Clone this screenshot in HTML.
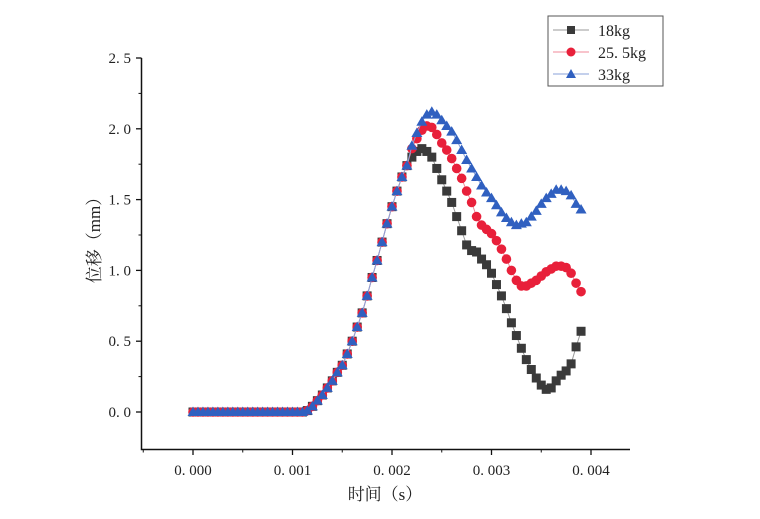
<!DOCTYPE html>
<html><head><meta charset="utf-8"><style>
body{margin:0;background:#fff}
text{font-family:"Liberation Serif","Noto Serif CJK SC",serif;fill:#222}
</style></head><body>
<svg id="chart" width="760" height="514" xmlns="http://www.w3.org/2000/svg">
<g id="axes"></g><g id="series"></g>
<g>
<rect x="548" y="16" width="115" height="70" fill="#fff" stroke="#555" stroke-width="1"/>
<g><line x1="553" y1="30" x2="589" y2="30" stroke="#999"/><rect x="567" y="26" width="8" height="8" fill="#3a3a3a"/><text x="598" y="36" font-size="16">18kg</text></g>
<g><line x1="553" y1="52" x2="589" y2="52" stroke="#f08a9a"/><circle cx="571" cy="52" r="4.5" fill="#e8203a"/><text x="598" y="58" font-size="16">25. 5kg</text></g>
<g><line x1="553" y1="74" x2="589" y2="74" stroke="#8aa0d8"/><path d="M571 69 L576 78 L566 78 Z" fill="#3060c0"/><text x="598" y="80" font-size="16">33kg</text></g>
</g>
<text x="385" y="500" font-size="17" text-anchor="middle">时间（s）</text>
<text x="0" y="0" font-size="17" text-anchor="middle" transform="translate(100,236) rotate(-90)">位移（mm）</text>
</svg>
<script>
const step = 0.00005;
const rise = [0,0,0,0,0,0,0,0,0,0,0,0,0,0,0,0,0,0,0,0,0,0,0,0.01,0.04,0.08,0.12,0.17,0.22,0.28,0.33,0.41,0.50,0.60,0.70,0.82,0.95,1.07,1.2,1.33,1.45,1.56,1.66,1.74];
const s18 = rise.concat([1.80,1.84,1.86,1.84,1.80,1.72,1.64,1.56,1.48,1.38,1.28,1.18,1.14,1.13,1.08,1.04,0.98,0.90,0.82,0.73,0.63,0.54,0.45,0.37,0.30,0.24,0.19,0.16,0.17,0.22,0.26,0.29,0.34,0.46,0.57]);
const s25 = rise.concat([1.86,1.93,1.99,2.02,2.01,1.96,1.90,1.85,1.79,1.72,1.65,1.56,1.48,1.38,1.32,1.29,1.26,1.21,1.15,1.08,1.00,0.93,0.89,0.89,0.91,0.93,0.96,0.99,1.01,1.03,1.03,1.02,0.98,0.91,0.85]);
const s33 = rise.concat([1.88,1.97,2.05,2.10,2.12,2.10,2.06,2.02,1.98,1.92,1.85,1.78,1.72,1.66,1.60,1.55,1.51,1.46,1.41,1.37,1.34,1.32,1.33,1.34,1.38,1.42,1.47,1.51,1.54,1.57,1.57,1.56,1.53,1.47,1.43]);
const xTicks = [0,0.001,0.002,0.003,0.004];
const xTickLabels = ["0. 000","0. 001","0. 002","0. 003","0. 004"];
const yTicks = [0,0.5,1.0,1.5,2.0,2.5];
const yTickLabels = ["0. 0","0. 5","1. 0","1. 5","2. 0","2. 5"];

const NS="http://www.w3.org/2000/svg";
const X = t => 193 + t/0.001*99.5;
const Y = v => 412 - v/0.5*70.8;
function mk(tag, parent){const e=document.createElementNS(NS,tag);parent.appendChild(e);return e;}
const axes=document.getElementById('axes');
let a=mk('path',axes);


a.setAttribute('d','M141.5 58 V449.5 H630');a.setAttribute('stroke','#111');a.setAttribute('fill','none');a.setAttribute('stroke-width','1.5');
yTicks.forEach((v,i)=>{
  let l=mk('line',axes);
  
  
  l.setAttribute('x1',136);l.setAttribute('x2',141.5);l.setAttribute('y1',Y(v));l.setAttribute('y2',Y(v));l.setAttribute('stroke','#111');l.setAttribute('stroke-width','1.3');
  if(i<yTicks.length-1){let m=mk('line',axes);
  
  
  m.setAttribute('x1',138.5);m.setAttribute('x2',141.5);m.setAttribute('y1',Y(v+0.25));m.setAttribute('y2',Y(v+0.25));m.setAttribute('stroke','#111');}
  let t=mk('text',axes);
  
  
  t.setAttribute('x',131);t.setAttribute('y',Y(v)+5);t.setAttribute('text-anchor','end');t.setAttribute('font-size','15');t.textContent=yTickLabels[i];
});
xTicks.forEach((v,i)=>{
  let l=mk('line',axes);
  
  
  l.setAttribute('x1',X(v));l.setAttribute('x2',X(v));l.setAttribute('y1',449.5);l.setAttribute('y2',455);l.setAttribute('stroke','#111');l.setAttribute('stroke-width','1.3');
  if(i<xTicks.length-1){
  let m=mk('line',axes);
  
  
  const mx=X(v+0.0005); m.setAttribute('x1',mx);m.setAttribute('x2',mx);m.setAttribute('y1',449.5);m.setAttribute('y2',452.5);m.setAttribute('stroke','#111');}
  let t=mk('text',axes);
  
  
  t.setAttribute('x',X(v));t.setAttribute('y',475);t.setAttribute('text-anchor','middle');t.setAttribute('font-size','15');t.textContent=xTickLabels[i];
});
let m0=mk('line',axes);


m0.setAttribute('x1',X(-0.0005));m0.setAttribute('x2',X(-0.0005));m0.setAttribute('y1',449.5);m0.setAttribute('y2',452.5);m0.setAttribute('stroke','#111');

const sg=document.getElementById('series');
function draw(vals,name,color,lineColor,shape){
  const g=mk('g',sg);
  
  
  const p=mk('polyline',g);
  
  
  p.setAttribute('points',vals.map((v,i)=>X(i*step)+','+Y(v)).join(' '));
  p.setAttribute('fill','none');p.setAttribute('stroke',lineColor);p.setAttribute('stroke-width','1');
  vals.forEach((v,i)=>{
    const x=X(i*step),y=Y(v);let e;
    if(shape==='sq'){e=mk('rect',g);e.setAttribute('x',x-4.5);e.setAttribute('y',y-4.5);e.setAttribute('width',9);e.setAttribute('height',9);}
    else if(shape==='c'){e=mk('circle',g);e.setAttribute('cx',x);e.setAttribute('cy',y);e.setAttribute('r',4.8);}
    else{e=mk('path',g);e.setAttribute('d',`M${x} ${y-5.5} L${x+5.5} ${y+4} L${x-5.5} ${y+4} Z`);}
    
    
    e.setAttribute('fill',color);
  });
}
draw(s18,'series-18kg','#3a3a3a','#999','sq');
draw(s25,'series-25-5kg','#e8203a','#f08a9a','c');
draw(s33,'series-33kg','#3060c0','#8aa0d8','tri');
</script>
</body></html>
